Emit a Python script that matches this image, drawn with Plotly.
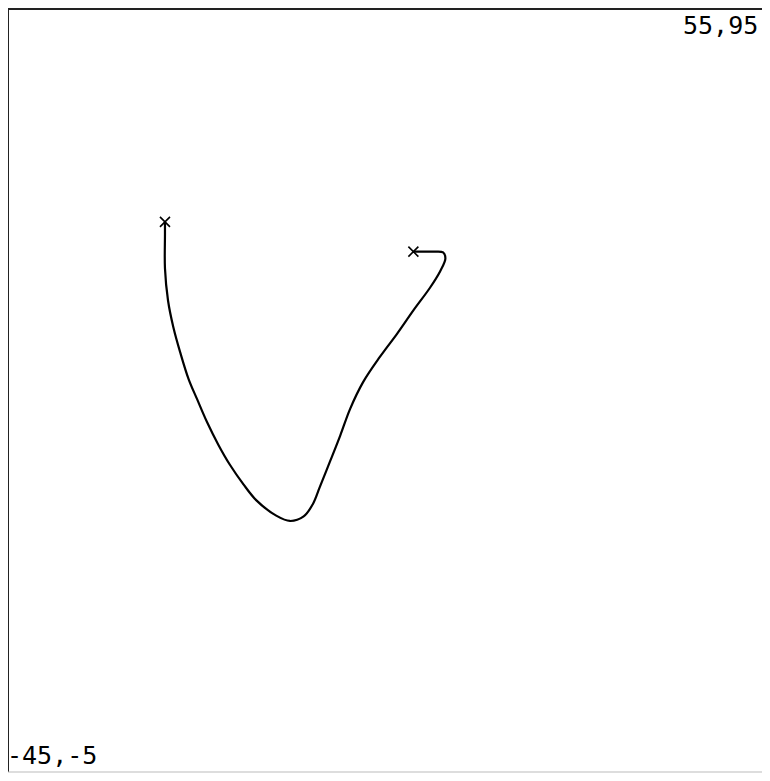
import plotly.graph_objects as go

# path of the curve (data units)
path_x = [-24.4, -24.4, -24.4, -24.0, -23.3, -22.4, -21.3, -20.2, -18.9, -17.4,
          -15.9, -14.1, -12.4, -9.8, -8.0, -6.2, -5.0, -4.1, -2.7, -1.4,
          -0.1, 1.6, 3.8, 6.1, 8.2, 10.4, 11.7, 12.4, 12.1, 10.8,
          9.1, 8.2]
path_y = [67.1, 65.4, 61.0, 56.8, 53.3, 50.0, 46.5, 43.9, 40.9, 37.9,
          35.3, 32.7, 30.6, 28.6, 27.9, 28.5, 30.1, 32.3, 35.8, 39.1,
          42.6, 46.1, 49.4, 52.5, 55.5, 58.5, 60.6, 62.3, 63.1, 63.2,
          63.2, 63.2]

# end points marked with a cross
end_x = [path_x[0], path_x[-1]]
end_y = [path_y[0], path_y[-1]]

x_range = [-45, 55]
y_range = [-5, 95]
corner_labels = ["-45,-5", "55,95"]

fig = go.Figure()
fig.add_trace(go.Scatter(
    x=path_x, y=path_y, mode="lines",
    line=dict(color="black", width=2.2, shape="spline", smoothing=1.0),
    hoverinfo="skip",
))
fig.add_trace(go.Scatter(
    x=end_x, y=end_y, mode="markers",
    marker=dict(symbol="x-thin", size=10, color="black",
                line=dict(color="black", width=1.6)),
    hoverinfo="skip",
))

font = dict(family="DejaVu Sans Mono", size=25, color="black")

# page has an 8px body margin, keep the figure inside the window
fig.update_layout(
    width=762, height=765,
    margin=dict(l=0, r=0, t=1, b=1, pad=0),
    paper_bgcolor="white", plot_bgcolor="white",
    showlegend=False,
    xaxis=dict(range=x_range, visible=False, fixedrange=True),
    yaxis=dict(range=y_range, visible=False, fixedrange=True),
    shapes=[
        # frame: top and left dark, bottom faint
        dict(type="line", xref="paper", yref="paper", x0=0, x1=1, y0=1, y1=1,
             line=dict(color="#222", width=2)),
        dict(type="line", xref="paper", yref="paper", x0=0, x1=0, y0=0, y1=1,
             line=dict(color="#222", width=2)),
        dict(type="line", xref="paper", yref="paper", x0=0, x1=1, y0=0, y1=0,
             line=dict(color="#bbb", width=1)),
    ],
    annotations=[
        dict(text=corner_labels[0], xref="paper", yref="paper", x=0, y=0,
             xanchor="left", yanchor="bottom", showarrow=False, font=font,
             xshift=-3, yshift=0),
        dict(text=corner_labels[1], xref="paper", yref="paper", x=1, y=1,
             xanchor="right", yanchor="top", showarrow=False, font=font,
             xshift=-10, yshift=0),
    ],
)

fig.write_html("out.html")
